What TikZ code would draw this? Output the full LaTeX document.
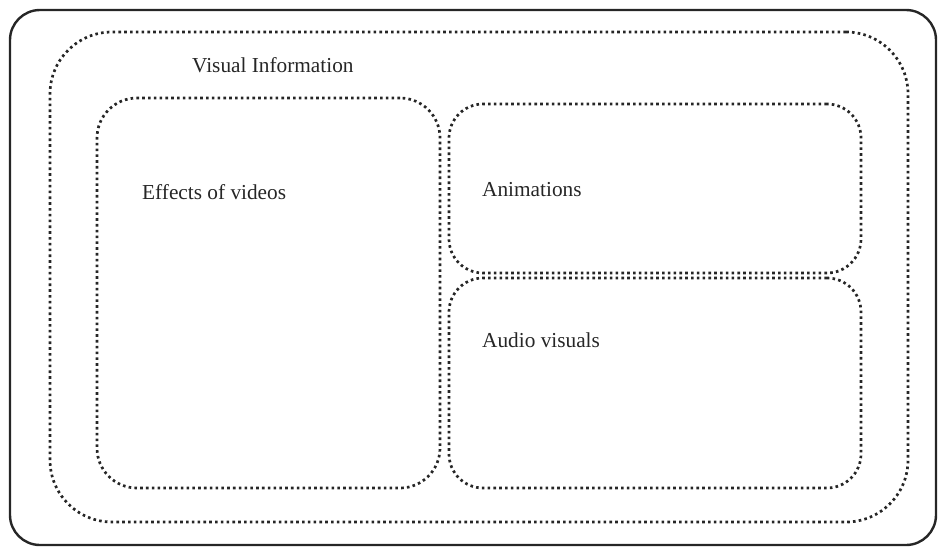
\documentclass[tikz,border=0pt]{standalone}
\usepackage{fontspec}
\setmainfont{Liberation Serif}
\begin{document}
\begin{tikzpicture}[x=1pt,y=-1pt,
  framebox/.style={draw=black!85, line width=2.4pt, rounded corners=30pt, inner sep=0pt},
  dotbox/.style={draw=black!85, line width=2.7pt, dash pattern=on 2.6pt off 3.2pt, inner sep=0pt},
  label/.style={anchor=base west, inner sep=0pt, font=\fontsize{21.3}{25}\selectfont, text=black!85}]
  \useasboundingbox (0,0) rectangle (938,547);
  % outer frame
  \node[framebox, minimum width=926pt, minimum height=535pt] (frame) at (473,277.5) {};
  % visual information group
  \node[dotbox, rounded corners=62pt, minimum width=858pt, minimum height=490pt] (visual) at (479,277) {};
  % inner groups
  \node[dotbox, rounded corners=40pt, minimum width=343pt, minimum height=390pt] (effects) at (268.5,293) {};
  \node[dotbox, rounded corners=34pt, minimum width=412pt, minimum height=169pt] (anim) at (655,188.5) {};
  \node[dotbox, rounded corners=34pt, minimum width=412pt, minimum height=210pt] (audio) at (655,383) {};
  % labels
  \node[label] (tvisual) at (192,72) {Visual Information};
  \node[label] (teffects) at (142,199) {Effects of videos};
  \node[label] (tanim) at (482,196) {Animations};
  \node[label] (taudio) at (482,347) {Audio visuals};
\end{tikzpicture}
\end{document}
